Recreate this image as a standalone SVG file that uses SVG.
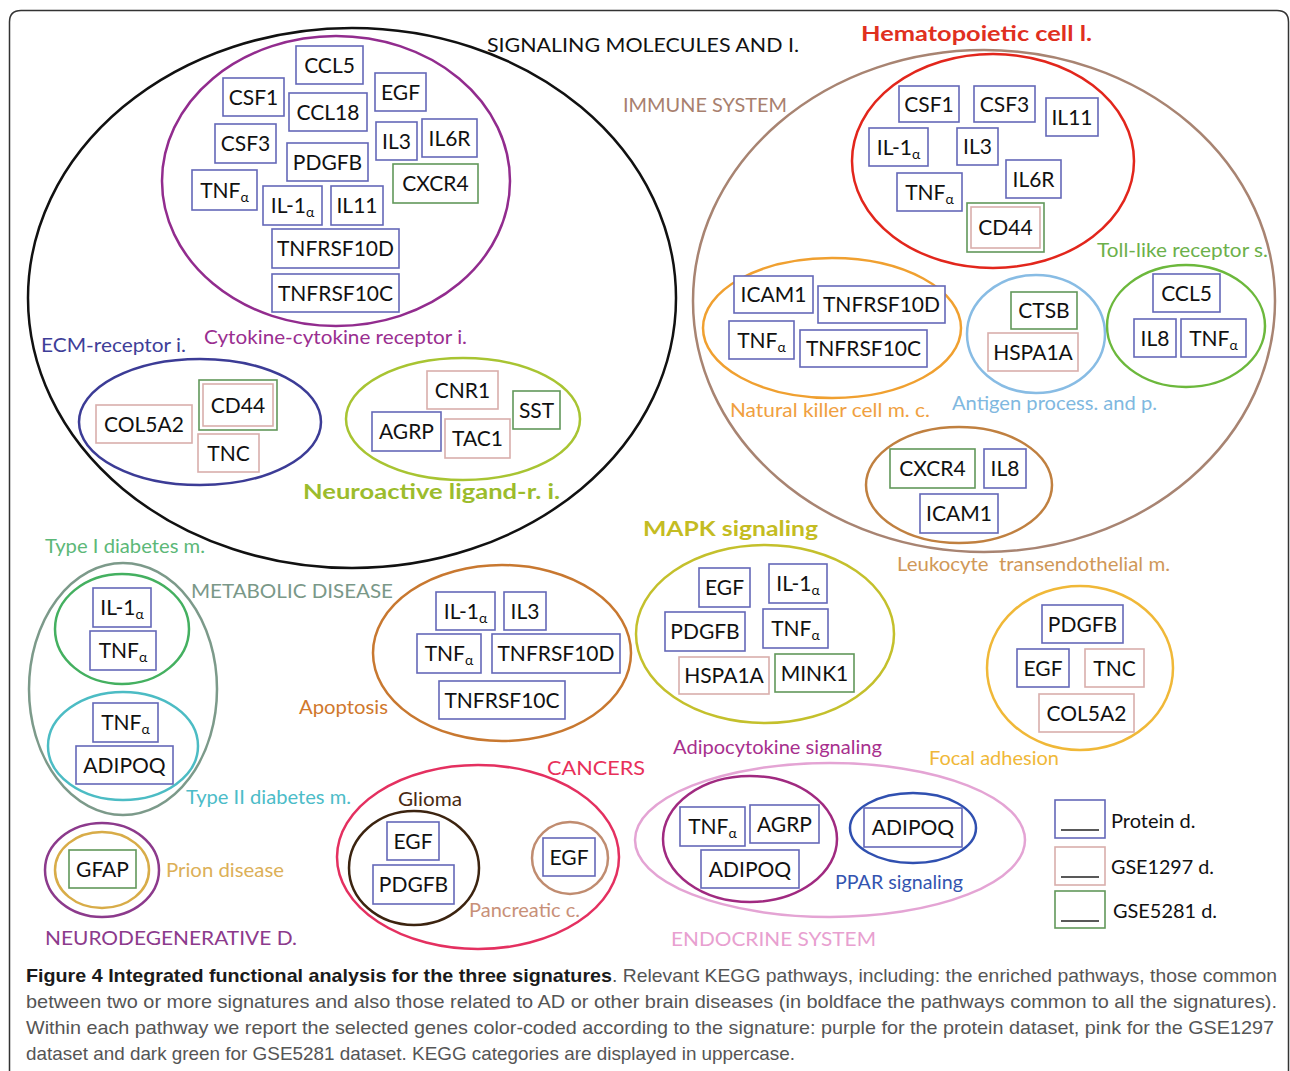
<svg xmlns="http://www.w3.org/2000/svg" width="1290" height="1071" viewBox="0 0 1290 1071">
<style>
.bg{fill:#fff}
.frame{fill:none;stroke:#333;stroke-width:1.5}
.pw{fill:none;stroke-width:2.5}
.b{fill:#fff;stroke-width:1.6}
.bp{stroke:#6468b8}
.bs{stroke:#d9aeac}
.bg5{stroke:#62985a}
.gt{font-family:Lato,"Liberation Sans",sans-serif;font-size:21px;fill:#111;text-anchor:middle}
.sub{font-size:14px}
.lb{font-family:Lato,"Liberation Sans",sans-serif;font-size:20px}
.bold{font-weight:bold}
.cap{font-family:"Liberation Sans",Arial,sans-serif;font-size:19px;fill:#555}
.capb{font-family:"Liberation Sans",Arial,sans-serif;font-size:19px;fill:#1a1a1a;font-weight:bold}
.ul{stroke:#222;stroke-width:1.6}
</style>
<rect class="bg" x="0" y="0" width="1290" height="1071"/>
<path class="frame" d="M9.5,1071 V22 Q9.5,10.5 21,10.5 H1277 Q1288.5,10.5 1288.5,22 V1071"/>

<g id="pathways">
  <g id="p-signaling">
    <ellipse class="pw" cx="352" cy="298" rx="324" ry="270" stroke="#111" stroke-width="3"/>
    <text class="lb" x="487" y="52" fill="#111" textLength="312" lengthAdjust="spacingAndGlyphs">SIGNALING MOLECULES AND I.</text>
  </g>
  <g id="p-cytokine">
    <ellipse class="pw" cx="336" cy="181" rx="174" ry="145" stroke="#922c8e"/>
    <text class="lb" x="204" y="344" fill="#9a2e90" textLength="263" lengthAdjust="spacingAndGlyphs">Cytokine-cytokine receptor i.</text>
  </g>
  <g id="p-ecm">
    <ellipse class="pw" cx="200" cy="422" rx="121" ry="63" stroke="#3c3c96"/>
    <text class="lb" x="41" y="352" fill="#3e3e98" textLength="145" lengthAdjust="spacingAndGlyphs">ECM-receptor i.</text>
  </g>
  <g id="p-neuroactive">
    <ellipse class="pw" cx="463" cy="419" rx="117" ry="61" stroke="#a8c432" stroke-width="3.5"/>
    <text class="lb bold" x="303" y="499" fill="#9cbc2c" textLength="257" lengthAdjust="spacingAndGlyphs">Neuroactive ligand-r. i.</text>
  </g>
  <g id="p-immune">
    <ellipse class="pw" cx="984" cy="301" rx="291" ry="251" stroke="#a88472"/>
    <text class="lb" x="623" y="112" fill="#a8806e" textLength="164" lengthAdjust="spacingAndGlyphs">IMMUNE SYSTEM</text>
  </g>
  <g id="p-hematopoietic">
    <ellipse class="pw" cx="993" cy="161" rx="141" ry="107" stroke="#e2261c" stroke-width="3.5"/>
    <text class="lb bold" x="861" y="41" fill="#e0301e" textLength="231" lengthAdjust="spacingAndGlyphs">Hematopoietic cell l.</text>
  </g>
  <g id="p-tolllike">
    <ellipse class="pw" cx="1186" cy="326" rx="79" ry="61" stroke="#6cb83c"/>
    <text class="lb" x="1097" y="257" fill="#6cb04a" textLength="171" lengthAdjust="spacingAndGlyphs">Toll-like receptor s.</text>
  </g>
  <g id="p-nk">
    <ellipse class="pw" cx="832" cy="328" rx="129" ry="70" stroke="#f0a030"/>
    <text class="lb" x="730" y="417" fill="#f0a040" textLength="200" lengthAdjust="spacingAndGlyphs">Natural killer cell m. c.</text>
  </g>
  <g id="p-antigen">
    <ellipse class="pw" cx="1036" cy="334" rx="69" ry="59" stroke="#88bce4"/>
    <text class="lb" x="952" y="410" fill="#80b8e0" textLength="205" lengthAdjust="spacingAndGlyphs">Antigen process. and p.</text>
  </g>
  <g id="p-leukocyte">
    <ellipse class="pw" cx="959" cy="485" rx="93" ry="58" stroke="#c08040"/>
    <text class="lb" x="897" y="571" fill="#d09858" textLength="273" lengthAdjust="spacingAndGlyphs" xml:space="preserve">Leukocyte  transendothelial m.</text>
  </g>
  <g id="p-metabolic">
    <ellipse class="pw" cx="123" cy="689" rx="94" ry="126" stroke="#7c9a8a"/>
    <text class="lb" x="191" y="598" fill="#7a9888" textLength="202" lengthAdjust="spacingAndGlyphs">METABOLIC DISEASE</text>
  </g>
  <g id="p-type1">
    <ellipse class="pw" cx="122" cy="629" rx="67" ry="55" stroke="#44b060"/>
    <text class="lb" x="45" y="553" fill="#5cb878" textLength="160" lengthAdjust="spacingAndGlyphs">Type I diabetes m.</text>
  </g>
  <g id="p-type2">
    <ellipse class="pw" cx="123" cy="746" rx="75" ry="54" stroke="#4cbcc4"/>
    <text class="lb" x="186" y="804" fill="#4cbcc8" textLength="165" lengthAdjust="spacingAndGlyphs">Type II diabetes m.</text>
  </g>
  <g id="p-neurodegenerative">
    <ellipse class="pw" cx="102" cy="870" rx="57" ry="47" stroke="#8c3a8c" stroke-width="3"/>
    <text class="lb" x="45" y="945" fill="#8c3a8c" textLength="252" lengthAdjust="spacingAndGlyphs">NEURODEGENERATIVE D.</text>
  </g>
  <g id="p-prion">
    <ellipse class="pw" cx="102" cy="870" rx="47" ry="38" stroke="#d8ac48"/>
    <text class="lb" x="166" y="877" fill="#dcb058" textLength="118" lengthAdjust="spacingAndGlyphs">Prion disease</text>
  </g>
  <g id="p-apoptosis">
    <ellipse class="pw" cx="502" cy="653" rx="129" ry="88" stroke="#c87830"/>
    <text class="lb" x="299" y="714" fill="#d0782c" textLength="89" lengthAdjust="spacingAndGlyphs">Apoptosis</text>
  </g>
  <g id="p-cancers">
    <ellipse class="pw" cx="478" cy="857" rx="141" ry="92" stroke="#e43060"/>
    <text class="lb" x="547" y="775" fill="#e8305a" textLength="98" lengthAdjust="spacingAndGlyphs">CANCERS</text>
  </g>
  <g id="p-glioma">
    <ellipse class="pw" cx="414" cy="868" rx="65" ry="57" stroke="#3c2410" stroke-width="3"/>
    <text class="lb" x="398" y="806" fill="#4a2a12" textLength="64" lengthAdjust="spacingAndGlyphs">Glioma</text>
  </g>
  <g id="p-pancreatic">
    <ellipse class="pw" cx="570" cy="858" rx="38" ry="36" stroke="#c08c70"/>
    <text class="lb" x="469" y="917" fill="#c89078" textLength="111" lengthAdjust="spacingAndGlyphs">Pancreatic c.</text>
  </g>
  <g id="p-mapk">
    <ellipse class="pw" cx="765" cy="634" rx="129" ry="89" stroke="#c4c02c" stroke-width="3.5"/>
    <text class="lb bold" x="643" y="536" fill="#c4bc22" textLength="175" lengthAdjust="spacingAndGlyphs">MAPK signaling</text>
  </g>
  <g id="p-focal">
    <ellipse class="pw" cx="1080" cy="668" rx="93" ry="82" stroke="#f0b838"/>
    <text class="lb" x="929" y="765" fill="#f0b838" textLength="130" lengthAdjust="spacingAndGlyphs">Focal adhesion</text>
  </g>
  <g id="p-endocrine">
    <ellipse class="pw" cx="830" cy="840" rx="195" ry="77" stroke="#e4a4d4"/>
    <text class="lb" x="671" y="946" fill="#e8a0d0" textLength="205" lengthAdjust="spacingAndGlyphs">ENDOCRINE SYSTEM</text>
  </g>
  <g id="p-adipocytokine">
    <ellipse class="pw" cx="750" cy="839" rx="87" ry="63" stroke="#a02a80" stroke-width="3"/>
    <text class="lb" x="673" y="754" fill="#a8308e" textLength="209" lengthAdjust="spacingAndGlyphs">Adipocytokine signaling</text>
  </g>
  <g id="p-ppar">
    <ellipse class="pw" cx="913" cy="828" rx="63" ry="35" stroke="#3050b0" stroke-width="3"/>
    <text class="lb" x="835" y="889" fill="#3454b0" textLength="128" lengthAdjust="spacingAndGlyphs">PPAR signaling</text>
  </g>
</g>

<g id="connectors"></g>

<g id="genes">
  <!-- Cytokine-cytokine receptor -->
  <g id="cyt-ccl5"><rect class="b bp" x="296" y="46" width="67" height="38"/><text class="gt" x="329.5" y="72.5">CCL5</text></g>
  <g id="cyt-csf1"><rect class="b bp" x="223" y="78" width="61" height="38"/><text class="gt" x="253.5" y="104.5">CSF1</text></g>
  <g id="cyt-egf"><rect class="b bp" x="375" y="73" width="51" height="38"/><text class="gt" x="400.5" y="99.5">EGF</text></g>
  <g id="cyt-ccl18"><rect class="b bp" x="289" y="93" width="78" height="38"/><text class="gt" x="328" y="119.5">CCL18</text></g>
  <g id="cyt-csf3"><rect class="b bp" x="215" y="124" width="61" height="39"/><text class="gt" x="245.5" y="151">CSF3</text></g>
  <g id="cyt-il3"><rect class="b bp" x="376" y="122" width="41" height="38"/><text class="gt" x="396.5" y="148.5">IL3</text></g>
  <g id="cyt-il6r"><rect class="b bp" x="422" y="119" width="55" height="38"/><text class="gt" x="449.5" y="145.5">IL6R</text></g>
  <g id="cyt-pdgfb"><rect class="b bp" x="287" y="143" width="81" height="38"/><text class="gt" x="327.5" y="169.5">PDGFB</text></g>
  <g id="cyt-cxcr4"><rect class="b bg5" x="393" y="164" width="85" height="39"/><text class="gt" x="435.5" y="191">CXCR4</text></g>
  <g id="cyt-tnfa"><rect class="b bp" x="192" y="170" width="65" height="40"/><text class="gt" x="224.5" y="197.5">TNF<tspan class="sub" dy="4">α</tspan></text></g>
  <g id="cyt-il1a"><rect class="b bp" x="263" y="186" width="59" height="39"/><text class="gt" x="292.5" y="213">IL-1<tspan class="sub" dy="4">α</tspan></text></g>
  <g id="cyt-il11"><rect class="b bp" x="331" y="186" width="52" height="39"/><text class="gt" x="357" y="213">IL11</text></g>
  <g id="cyt-tnfrsf10d"><rect class="b bp" x="272" y="229" width="127" height="39"/><text class="gt" x="335.5" y="256">TNFRSF10D</text></g>
  <g id="cyt-tnfrsf10c"><rect class="b bp" x="272" y="274" width="127" height="38"/><text class="gt" x="335.5" y="300.5">TNFRSF10C</text></g>

  <!-- ECM-receptor -->
  <g id="ecm-col5a2"><rect class="b bs" x="96" y="405" width="96" height="38"/><text class="gt" x="144" y="431.5">COL5A2</text></g>
  <g id="ecm-cd44"><rect class="b bg5" x="199" y="380" width="78" height="50" stroke-width="2.2"/><rect class="b bs" x="203" y="384" width="70" height="42"/><text class="gt" x="238" y="412.5">CD44</text></g>
  <g id="ecm-tnc"><rect class="b bs" x="198" y="434" width="61" height="38"/><text class="gt" x="228.5" y="460.5">TNC</text></g>

  <!-- Neuroactive -->
  <g id="neu-cnr1"><rect class="b bs" x="427" y="371" width="71" height="38"/><text class="gt" x="462.5" y="397.5">CNR1</text></g>
  <g id="neu-sst"><rect class="b bg5" x="513" y="391" width="47" height="38"/><text class="gt" x="536.5" y="417.5">SST</text></g>
  <g id="neu-agrp"><rect class="b bp" x="372" y="412" width="69" height="39"/><text class="gt" x="406.5" y="439">AGRP</text></g>
  <g id="neu-tac1"><rect class="b bs" x="445" y="419" width="65" height="39"/><text class="gt" x="477.5" y="446">TAC1</text></g>

  <!-- Hematopoietic -->
  <g id="hem-csf1"><rect class="b bp" x="899" y="86" width="60" height="36"/><text class="gt" x="929" y="111.5">CSF1</text></g>
  <g id="hem-csf3"><rect class="b bp" x="974" y="86" width="61" height="36"/><text class="gt" x="1004.5" y="111.5">CSF3</text></g>
  <g id="hem-il11"><rect class="b bp" x="1046" y="98" width="52" height="38"/><text class="gt" x="1072" y="124.5">IL11</text></g>
  <g id="hem-il1a"><rect class="b bp" x="869" y="128" width="59" height="38"/><text class="gt" x="898.5" y="154.5">IL-1<tspan class="sub" dy="4">α</tspan></text></g>
  <g id="hem-il3"><rect class="b bp" x="957" y="128" width="41" height="37"/><text class="gt" x="977.5" y="154">IL3</text></g>
  <g id="hem-tnfa"><rect class="b bp" x="897" y="173" width="65" height="38"/><text class="gt" x="929.5" y="199.5">TNF<tspan class="sub" dy="4">α</tspan></text></g>
  <g id="hem-il6r"><rect class="b bp" x="1006" y="160" width="55" height="38"/><text class="gt" x="1033.5" y="186.5">IL6R</text></g>
  <g id="hem-cd44"><rect class="b bg5" x="967" y="203" width="77" height="49" stroke-width="2.2"/><rect class="b bs" x="971" y="207" width="69" height="41"/><text class="gt" x="1005.5" y="235">CD44</text></g>

  <!-- Toll-like -->
  <g id="tll-ccl5"><rect class="b bp" x="1153" y="274" width="67" height="38"/><text class="gt" x="1186.5" y="300.5">CCL5</text></g>
  <g id="tll-il8"><rect class="b bp" x="1134" y="319" width="42" height="38"/><text class="gt" x="1155" y="345.5">IL8</text></g>
  <g id="tll-tnfa"><rect class="b bp" x="1181" y="319" width="65" height="38"/><text class="gt" x="1213.5" y="345.5">TNF<tspan class="sub" dy="4">α</tspan></text></g>

  <!-- Natural killer -->
  <g id="nk-icam1"><rect class="b bp" x="734" y="276" width="79" height="37"/><text class="gt" x="773.5" y="302">ICAM1</text></g>
  <g id="nk-tnfrsf10d"><rect class="b bp" x="818" y="286" width="127" height="37"/><text class="gt" x="881.5" y="312">TNFRSF10D</text></g>
  <g id="nk-tnfa"><rect class="b bp" x="729" y="321" width="65" height="38"/><text class="gt" x="761.5" y="347.5">TNF<tspan class="sub" dy="4">α</tspan></text></g>
  <g id="nk-tnfrsf10c"><rect class="b bp" x="800" y="330" width="127" height="37"/><text class="gt" x="863.5" y="356">TNFRSF10C</text></g>

  <!-- Antigen -->
  <g id="ag-ctsb"><rect class="b bg5" x="1011" y="292" width="66" height="37"/><text class="gt" x="1044" y="318">CTSB</text></g>
  <g id="ag-hspa1a"><rect class="b bs" x="988" y="333" width="90" height="38"/><text class="gt" x="1033" y="359.5">HSPA1A</text></g>

  <!-- Leukocyte -->
  <g id="leu-cxcr4"><rect class="b bg5" x="890" y="449" width="85" height="39"/><text class="gt" x="932.5" y="476">CXCR4</text></g>
  <g id="leu-il8"><rect class="b bp" x="984" y="449" width="42" height="39"/><text class="gt" x="1005" y="476">IL8</text></g>
  <g id="leu-icam1"><rect class="b bp" x="920" y="494" width="78" height="39"/><text class="gt" x="959" y="521">ICAM1</text></g>

  <!-- Type I diabetes -->
  <g id="t1-il1a"><rect class="b bp" x="93" y="588" width="58" height="39"/><text class="gt" x="122" y="615">IL-1<tspan class="sub" dy="4">α</tspan></text></g>
  <g id="t1-tnfa"><rect class="b bp" x="90" y="631" width="66" height="39"/><text class="gt" x="123" y="658">TNF<tspan class="sub" dy="4">α</tspan></text></g>

  <!-- Type II diabetes -->
  <g id="t2-tnfa"><rect class="b bp" x="93" y="703" width="65" height="39"/><text class="gt" x="125.5" y="730">TNF<tspan class="sub" dy="4">α</tspan></text></g>
  <g id="t2-adipoq"><rect class="b bp" x="76" y="746" width="97" height="38"/><text class="gt" x="124.5" y="772.5">ADIPOQ</text></g>

  <!-- Prion -->
  <g id="pr-gfap"><rect class="b bg5" x="69" y="850" width="67" height="38"/><text class="gt" x="102.5" y="876.5">GFAP</text></g>

  <!-- Apoptosis -->
  <g id="apo-il1a"><rect class="b bp" x="436" y="592" width="59" height="38"/><text class="gt" x="465.5" y="618.5">IL-1<tspan class="sub" dy="4">α</tspan></text></g>
  <g id="apo-il3"><rect class="b bp" x="504" y="592" width="42" height="38"/><text class="gt" x="525" y="618.5">IL3</text></g>
  <g id="apo-tnfa"><rect class="b bp" x="417" y="634" width="64" height="39"/><text class="gt" x="449" y="661">TNF<tspan class="sub" dy="4">α</tspan></text></g>
  <g id="apo-tnfrsf10d"><rect class="b bp" x="492" y="634" width="128" height="39"/><text class="gt" x="556" y="661">TNFRSF10D</text></g>
  <g id="apo-tnfrsf10c"><rect class="b bp" x="439" y="681" width="126" height="38"/><text class="gt" x="502" y="707.5">TNFRSF10C</text></g>

  <!-- Glioma -->
  <g id="gli-egf"><rect class="b bp" x="387" y="822" width="52" height="38"/><text class="gt" x="413" y="848.5">EGF</text></g>
  <g id="gli-pdgfb"><rect class="b bp" x="373" y="865" width="81" height="39"/><text class="gt" x="413.5" y="892">PDGFB</text></g>

  <!-- Pancreatic -->
  <g id="pan-egf"><rect class="b bp" x="543" y="838" width="52" height="38"/><text class="gt" x="569" y="864.5">EGF</text></g>

  <!-- MAPK -->
  <g id="mapk-egf"><rect class="b bp" x="699" y="568" width="51" height="39"/><text class="gt" x="724.5" y="595">EGF</text></g>
  <g id="mapk-il1a"><rect class="b bp" x="769" y="564" width="58" height="39"/><text class="gt" x="798" y="591">IL-1<tspan class="sub" dy="4">α</tspan></text></g>
  <g id="mapk-pdgfb"><rect class="b bp" x="665" y="612" width="80" height="39"/><text class="gt" x="705" y="639">PDGFB</text></g>
  <g id="mapk-tnfa"><rect class="b bp" x="763" y="609" width="65" height="39"/><text class="gt" x="795.5" y="636">TNF<tspan class="sub" dy="4">α</tspan></text></g>
  <g id="mapk-hspa1a"><rect class="b bs" x="679" y="657" width="90" height="37"/><text class="gt" x="724" y="683">HSPA1A</text></g>
  <g id="mapk-mink1"><rect class="b bg5" x="775" y="654" width="79" height="38"/><text class="gt" x="814.5" y="680.5">MINK1</text></g>

  <!-- Focal adhesion -->
  <g id="fa-pdgfb"><rect class="b bp" x="1042" y="605" width="81" height="38"/><text class="gt" x="1082.5" y="631.5">PDGFB</text></g>
  <g id="fa-egf"><rect class="b bp" x="1017" y="649" width="52" height="38"/><text class="gt" x="1043" y="675.5">EGF</text></g>
  <g id="fa-tnc"><rect class="b bs" x="1085" y="649" width="59" height="38"/><text class="gt" x="1114.5" y="675.5">TNC</text></g>
  <g id="fa-col5a2"><rect class="b bs" x="1039" y="694" width="95" height="38"/><text class="gt" x="1086.5" y="720.5">COL5A2</text></g>

  <!-- Adipocytokine -->
  <g id="adi-tnfa"><rect class="b bp" x="680" y="807" width="65" height="39"/><text class="gt" x="712.5" y="834">TNF<tspan class="sub" dy="4">α</tspan></text></g>
  <g id="adi-agrp"><rect class="b bp" x="750" y="805" width="69" height="38"/><text class="gt" x="784.5" y="831.5">AGRP</text></g>
  <g id="adi-adipoq"><rect class="b bp" x="701" y="850" width="98" height="38"/><text class="gt" x="750" y="876.5">ADIPOQ</text></g>

  <!-- PPAR -->
  <g id="ppar-adipoq"><rect class="b bp" x="864" y="808" width="98" height="39"/><text class="gt" x="913" y="835">ADIPOQ</text></g>
</g>

<g id="legend">
  <g id="leg-protein"><rect class="b bp" x="1055" y="800" width="50" height="38"/><line class="ul" x1="1061" y1="830" x2="1099" y2="830"/><text class="lb" x="1111" y="828" fill="#111" font-size="21">Protein d.</text></g>
  <g id="leg-gse1297"><rect class="b bs" x="1055" y="847" width="50" height="38"/><line class="ul" x1="1061" y1="877" x2="1099" y2="877"/><text class="lb" x="1111" y="874" fill="#111" font-size="21" textLength="103" lengthAdjust="spacingAndGlyphs">GSE1297 d.</text></g>
  <g id="leg-gse5281"><rect class="b bg5" x="1055" y="891" width="50" height="37"/><line class="ul" x1="1061" y1="921" x2="1099" y2="921"/><text class="lb" x="1113" y="918" fill="#111" font-size="21" textLength="104" lengthAdjust="spacingAndGlyphs">GSE5281 d.</text></g>
</g>

<g id="caption">
  <text class="capb" x="26" y="982" textLength="586" lengthAdjust="spacingAndGlyphs">Figure 4 Integrated functional analysis for the three signatures</text>
  <text class="cap" x="612" y="982" textLength="665" lengthAdjust="spacingAndGlyphs">. Relevant KEGG pathways, including: the enriched pathways, those common</text>
  <text class="cap" x="26" y="1008" textLength="1251" lengthAdjust="spacingAndGlyphs">between two or more signatures and also those related to AD or other brain diseases (in boldface the pathways common to all the signatures).</text>
  <text class="cap" x="26" y="1034" textLength="1248" lengthAdjust="spacingAndGlyphs">Within each pathway we report the selected genes color-coded according to the signature: purple for the protein dataset, pink for the GSE1297</text>
  <text class="cap" x="26" y="1060" textLength="769" lengthAdjust="spacingAndGlyphs">dataset and dark green for GSE5281 dataset. KEGG categories are displayed in uppercase.</text>
</g>
</svg>
